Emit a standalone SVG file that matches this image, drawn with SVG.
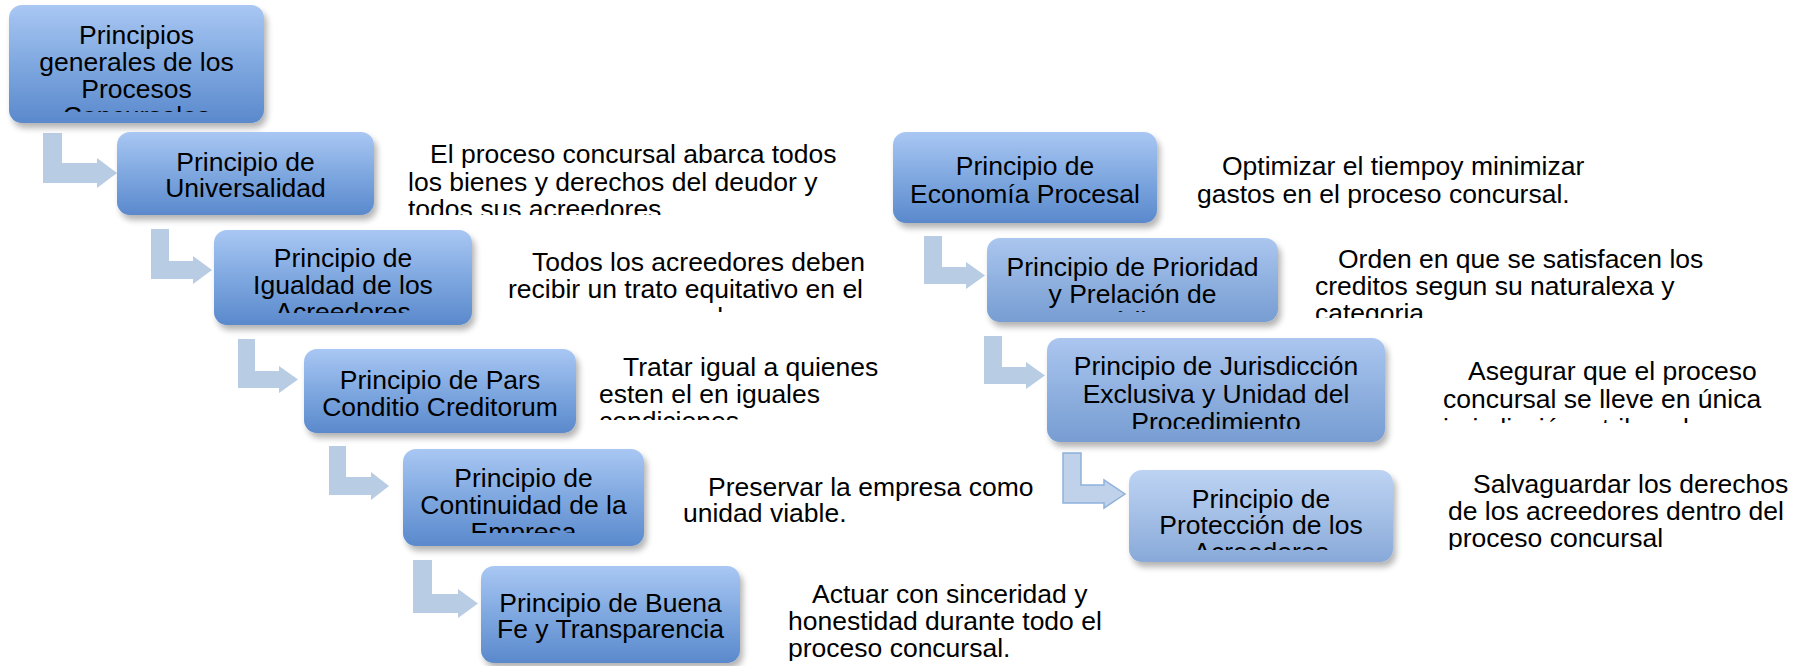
<svg xmlns="http://www.w3.org/2000/svg" width="1804" height="666" viewBox="0 0 1804 666">
<style>
.t{font-family:"Liberation Sans",Arial,sans-serif;font-size:26.5px;fill:#000}
.c{text-anchor:middle}
.arr{fill:#b8cce4}
.arr2{fill:#bfd2ea;stroke:#8fb1da;stroke-width:1.5}
</style>
<defs>
<linearGradient id="gA" x1="0" y1="0" x2="0" y2="1">
<stop offset="0" stop-color="#a9c7f3"/><stop offset="0.5" stop-color="#7fa8e0"/><stop offset="1" stop-color="#5a89cc"/>
</linearGradient>
<linearGradient id="gB" x1="0" y1="0" x2="0" y2="1">
<stop offset="0" stop-color="#abc6ef"/><stop offset="0.5" stop-color="#90b1e0"/><stop offset="1" stop-color="#779dd2"/>
</linearGradient>
<linearGradient id="gC" x1="0" y1="0" x2="0" y2="1">
<stop offset="0" stop-color="#bdd3f2"/><stop offset="0.5" stop-color="#a4bfe6"/><stop offset="1" stop-color="#88a9d8"/>
</linearGradient>
<filter id="sh" x="-10%" y="-10%" width="125%" height="140%">
<feGaussianBlur in="SourceAlpha" stdDeviation="3"/>
<feOffset dx="3" dy="5"/>
<feComponentTransfer><feFuncA type="linear" slope="0.3"/></feComponentTransfer>
<feMerge><feMergeNode/><feMergeNode in="SourceGraphic"/></feMerge>
</filter>
<clipPath id="k0"><rect x="0" y="0" width="300" height="112"/></clipPath>
<clipPath id="k2"><rect x="200" y="220" width="300" height="93"/></clipPath>
<clipPath id="k4"><rect x="390" y="440" width="270" height="93"/></clipPath>
<clipPath id="k7"><rect x="970" y="230" width="320" height="82"/></clipPath>
<clipPath id="k8"><rect x="1040" y="330" width="360" height="99"/></clipPath>
<clipPath id="k9"><rect x="1120" y="460" width="290" height="90"/></clipPath>
<clipPath id="d1"><rect x="400" y="130" width="460" height="85"/></clipPath>
<clipPath id="d2"><rect x="500" y="240" width="400" height="72"/></clipPath>
<clipPath id="d3"><rect x="590" y="345" width="320" height="75"/></clipPath>
<clipPath id="d5"><rect x="780" y="570" width="420" height="91"/></clipPath>
<clipPath id="d7"><rect x="1300" y="240" width="480" height="78"/></clipPath>
<clipPath id="d8"><rect x="1430" y="350" width="374" height="73"/></clipPath>
<clipPath id="d9"><rect x="1440" y="465" width="364" height="85"/></clipPath>
</defs>
<rect width="1804" height="666" fill="#fff"/>

<g id="connectors">
<polygon class="arr" points="43,133 62,133 62,163 97,163 97,158 117,173 97,188 97,183 43,183"/>
<polygon class="arr" points="151,229 169,229 169,261 193,261 193,256 212,270 193,284 193,279 151,279"/>
<polygon class="arr" points="238,339 255,339 255,371 279,371 279,366 298,379.5 279,393 279,388 238,388"/>
<polygon class="arr" points="329,446 346,446 346,477 371,477 371,472 389,486 371,500 371,495 329,495"/>
<polygon class="arr" points="413,560 432,560 432,594 458,594 458,589 478,603.5 458,618 458,613 413,613"/>
<polygon class="arr" points="924,236 942,236 942,267 966,267 966,262 985,275.5 966,289 966,284 924,284"/>
<polygon class="arr" points="984,336 1002,336 1002,367 1026,367 1026,362 1045,375.5 1026,389 1026,384 984,384"/>
<polygon class="arr2" points="1063,453 1081,453 1081,485 1104,485 1104,480 1125,494 1104,508 1104,503 1063,503"/>
</g>

<g id="n0">
<rect x="9" y="5" width="255" height="118" rx="13" fill="url(#gA)" filter="url(#sh)"/>
<g clip-path="url(#k0)" class="t c">
<text x="136.5" y="44">Principios</text>
<text x="136.5" y="71">generales de los</text>
<text x="136.5" y="98">Procesos</text>
<text x="136.5" y="125">Concursales</text>
</g>
</g>
<g id="n1">
<rect x="117" y="132" width="257" height="83" rx="13" fill="url(#gA)" filter="url(#sh)"/>
<text class="t c" x="245.5" y="171">Principio de</text>
<text class="t c" x="245.5" y="197">Universalidad</text>
</g>
<g id="n2">
<rect x="214" y="230" width="258" height="95" rx="13" fill="url(#gA)" filter="url(#sh)"/>
<g clip-path="url(#k2)" class="t c">
<text x="343" y="267">Principio de</text>
<text x="343" y="294">Igualdad de los</text>
<text x="343" y="321">Acreedores</text>
</g>
</g>
<g id="n3">
<rect x="304" y="349" width="272" height="84" rx="13" fill="url(#gA)" filter="url(#sh)"/>
<text class="t c" x="440" y="389">Principio de Pars</text>
<text class="t c" x="440" y="416">Conditio Creditorum</text>
</g>
<g id="n4">
<rect x="403" y="449" width="241" height="97" rx="13" fill="url(#gA)" filter="url(#sh)"/>
<g clip-path="url(#k4)" class="t c">
<text x="523.5" y="487">Principio de</text>
<text x="523.5" y="514">Continuidad de la</text>
<text x="523.5" y="541">Empresa</text>
</g>
</g>
<g id="n5">
<rect x="481" y="566" width="259" height="97" rx="13" fill="url(#gA)" filter="url(#sh)"/>
<text class="t c" x="610.5" y="612">Principio de Buena</text>
<text class="t c" x="610.5" y="638">Fe y Transparencia</text>
</g>
<g id="n6">
<rect x="893" y="132" width="264" height="91" rx="13" fill="url(#gA)" filter="url(#sh)"/>
<text class="t c" x="1025" y="175">Principio de</text>
<text class="t c" x="1025" y="203">Economía Procesal</text>
</g>
<g id="n7">
<rect x="987" y="238" width="291" height="84" rx="13" fill="url(#gB)" filter="url(#sh)"/>
<g clip-path="url(#k7)" class="t c">
<text x="1132.5" y="276">Principio de Prioridad</text>
<text x="1132.5" y="303">y Prelación de</text>
<text x="1132.5" y="330">Créditos</text>
</g>
</g>
<g id="n8">
<rect x="1047" y="338" width="338" height="104" rx="13" fill="url(#gB)" filter="url(#sh)"/>
<g clip-path="url(#k8)" class="t c">
<text x="1216" y="375">Principio de Jurisdicción</text>
<text x="1216" y="403">Exclusiva y Unidad del</text>
<text x="1216" y="431">Procedimiento</text>
</g>
</g>
<g id="n9">
<rect x="1129" y="470" width="264" height="92" rx="13" fill="url(#gC)" filter="url(#sh)"/>
<g clip-path="url(#k9)" class="t c">
<text x="1261" y="508">Principio de</text>
<text x="1261" y="534">Protección de los</text>
<text x="1261" y="561">Acreedores</text>
</g>
</g>

<g id="d-universalidad" clip-path="url(#d1)" class="t">
<text x="430" y="163">El proceso concursal abarca todos</text>
<text x="408" y="190.5">los bienes y derechos del deudor y</text>
<text x="408" y="218">todos sus acreedores</text>
</g>
<g id="d-igualdad" clip-path="url(#d2)" class="t">
<text x="532" y="271">Todos los acreedores deben</text>
<text x="508" y="298">recibir un trato equitativo en el</text>
<text x="508" y="326">proceso concursal.</text>
</g>
<g id="d-pars" clip-path="url(#d3)" class="t">
<text x="623" y="376">Tratar igual a quienes</text>
<text x="599" y="403">esten el en iguales</text>
<text x="599" y="430">condiciones</text>
</g>
<g id="d-continuidad" class="t">
<text x="708" y="496">Preservar la empresa como</text>
<text x="683" y="522">unidad viable.</text>
</g>
<g id="d-buenafe" clip-path="url(#d5)" class="t">
<text x="812" y="603">Actuar con sinceridad y</text>
<text x="788" y="630">honestidad durante todo el</text>
<text x="788" y="657">proceso concursal.</text>
</g>
<g id="d-economia" class="t">
<text x="1222" y="175">Optimizar el tiempoy minimizar</text>
<text x="1197" y="203">gastos en el proceso concursal.</text>
</g>
<g id="d-prioridad" clip-path="url(#d7)" class="t">
<text x="1338" y="268">Orden en que se satisfacen los</text>
<text x="1315" y="295">creditos segun su naturalexa y</text>
<text x="1315" y="322">categoria</text>
</g>
<g id="d-jurisdiccion" clip-path="url(#d8)" class="t">
<text x="1468" y="380">Asegurar que el proceso</text>
<text x="1443" y="408">concursal se lleve en única</text>
<text x="1443" y="437">jurisdicción y tribunal</text>
</g>
<g id="d-proteccion" clip-path="url(#d9)" class="t">
<text x="1473" y="493">Salvaguardar los derechos</text>
<text x="1448" y="520">de los acreedores dentro del</text>
<text x="1448" y="547">proceso concursal</text>
</g>
</svg>
